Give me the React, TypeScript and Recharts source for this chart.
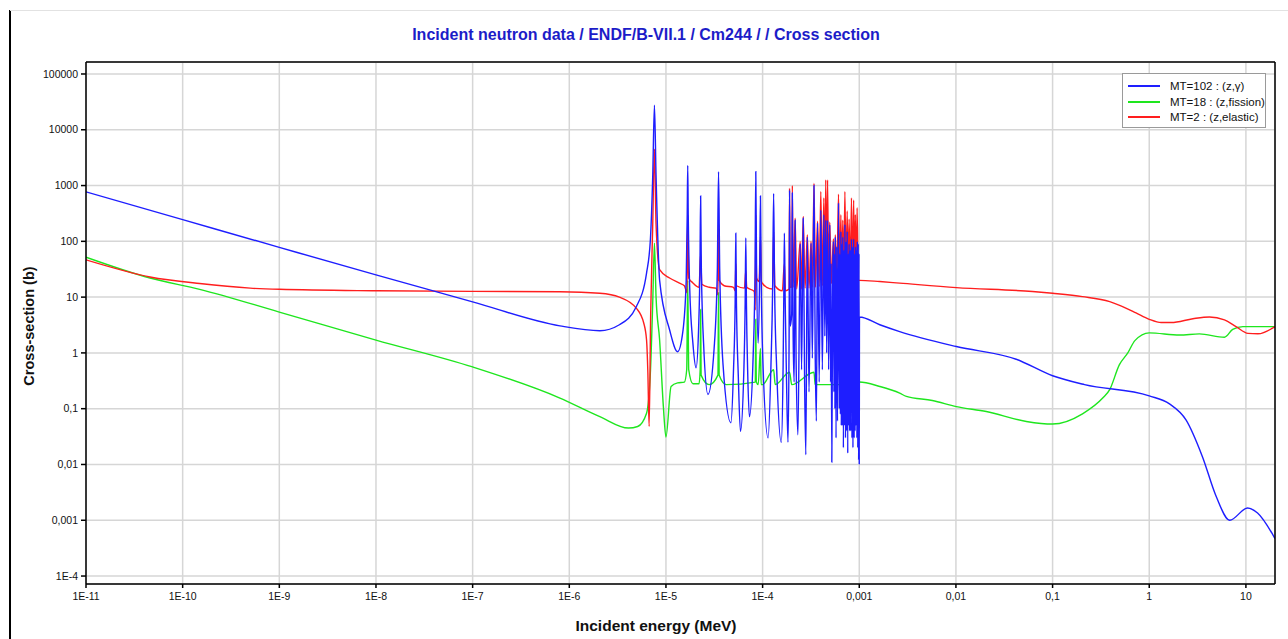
import { LineChart, Line, XAxis, YAxis, CartesianGrid } from 'recharts';

// energies in MeV, cross sections in barns
const capture: [number, number][] = [
  [1e-11, 770], [1e-10, 245], [1e-9, 78], [1e-8, 25], [1e-7, 8.2], [8e-7, 3.05], [2.07e-6, 2.5],
  [3.3e-6, 3.2], [4.95e-6, 6.8], [6.3e-6, 27], [6.9e-6, 107], [7.3e-6, 1500], [7.6e-6, 27500],
  [7.9e-6, 1500], [8.6e-6, 20], [1.09e-5, 2.6], [1.32e-5, 1.05], [1.5e-5, 2.5], [1.62e-5, 20],
  [1.66e-5, 300], [1.68e-5, 2300], [1.7e-5, 300], [1.76e-5, 15], [1.9e-5, 1.5], [2.05e-5, 0.54],
  [2.18e-5, 3], [2.25e-5, 40], [2.285e-5, 650], [2.32e-5, 40], [2.45e-5, 1.5], [2.72e-5, 0.18],
  [3.15e-5, 1.2], [3.4e-5, 30], [3.5e-5, 1780], [3.6e-5, 30], [3.9e-5, 0.6], [4.7e-5, 0.056],
  [5.0e-5, 0.5], [5.2e-5, 8], [5.28e-5, 140], [5.36e-5, 8], [5.6e-5, 0.4], [5.9e-5, 0.039],
  [6.4e-5, 0.5], [6.6e-5, 8], [6.7e-5, 115], [6.8e-5, 8], [7.0e-5, 0.5], [7.3e-5, 0.072],
  [8.0e-5, 1], [8.35e-5, 30], [8.5e-5, 1780], [8.65e-5, 40], [9.0e-5, 1.5], [9.35e-5, 40],
  [9.5e-5, 650], [9.65e-5, 30], [1.0e-4, 1], [1.14e-4, 0.03], [1.22e-4, 0.6], [1.27e-4, 15],
  [1.3e-4, 725], [1.33e-4, 15], [1.4e-4, 0.5], [1.56e-4, 0.025], [1.63e-4, 0.6], [1.66e-4, 15],
  [1.68e-4, 140], [1.71e-4, 10], [1.76e-4, 0.5], [1.83e-4, 0.025], [1.88e-4, 2], [1.9e-4, 830],
  [1.93e-4, 3], [2.0e-4, 5], [2.03e-4, 740], [2.07e-4, 2], [2.12e-4, 0.3], [2.17e-4, 240],
  [2.22e-4, 0.8], [2.32e-4, 0.034], [2.45e-4, 90], [2.53e-4, 0.5], [2.63e-4, 260], [2.72e-4, 0.3],
  [2.8e-4, 0.015], [2.9e-4, 120], [3.02e-4, 0.2], [3.17e-4, 93], [3.27e-4, 0.8], [3.4e-4, 1000],
  [3.5e-4, 1], [3.6e-4, 0.06], [3.7e-4, 214], [3.85e-4, 0.3], [4.0e-4, 365], [4.15e-4, 0.5],
  [4.3e-4, 300], [4.4e-4, 2], [4.5e-4, 240], [4.6e-4, 1], [4.7e-4, 240], [4.82e-4, 0.5],
  [4.95e-4, 200], [5.05e-4, 0.3], [5.1e-4, 40], [5.2e-4, 0.011], [5.32e-4, 30], [5.4e-4, 100],
  [5.47e-4, 0.2], [5.52e-4, 60], [5.6e-4, 0.1], [5.65e-4, 120], [5.75e-4, 0.03], [5.85e-4, 80],
  [5.95e-4, 0.06], [6.1e-4, 490], [6.2e-4, 0.1], [6.3e-4, 60], [6.38e-4, 0.08], [6.45e-4, 150],
  [6.52e-4, 0.05], [6.6e-4, 90], [6.68e-4, 0.05], [6.75e-4, 120], [6.85e-4, 0.02], [6.95e-4, 70],
  [7.02e-4, 0.05], [7.1e-4, 200], [7.2e-4, 0.03], [7.3e-4, 100], [7.4e-4, 0.04], [7.5e-4, 150],
  [7.6e-4, 0.016], [7.7e-4, 60], [7.78e-4, 0.05], [7.85e-4, 90], [7.95e-4, 0.04], [8.05e-4, 70],
  [8.15e-4, 0.04], [8.3e-4, 110], [8.4e-4, 0.03], [8.5e-4, 80], [8.6e-4, 0.02], [8.75e-4, 110],
  [8.85e-4, 0.03], [8.95e-4, 60], [9.05e-4, 0.04], [9.15e-4, 80], [9.25e-4, 0.05], [9.35e-4, 70],
  [9.45e-4, 0.03], [9.55e-4, 100], [9.65e-4, 0.02], [9.75e-4, 90], [9.85e-4, 0.012], [9.93e-4, 60],
  [1.0e-3, 0.01], [1.005e-3, 4.4], [1.63e-3, 3.2],
  [2.62e-3, 2.41], [0.0101, 1.3], [0.042, 0.77], [0.1, 0.39], [0.214, 0.27], [1.0, 0.17],
  [1.62, 0.122], [2.4, 0.063], [3.55, 0.0138], [4.93, 0.00266], [6.8, 0.001], [10.4, 0.00166],
  [13.2, 0.00135], [20, 0.00047],
];

const fission: [number, number][] = [
  [1e-11, 52], [4.6e-11, 22], [1.5e-10, 13.8], [1e-9, 5.4], [1e-8, 1.7], [1e-7, 0.56], [8e-7, 0.155],
  [2.07e-6, 0.072], [4.1e-6, 0.045], [5.1e-6, 0.048], [6.3e-6, 0.083], [6.9e-6, 0.44], [7.3e-6, 8],
  [7.6e-6, 93], [7.9e-6, 10], [8.6e-6, 1.7], [9.4e-6, 0.11], [1.0e-5, 0.031], [1.13e-5, 0.25],
  [1.32e-5, 0.29], [1.55e-5, 0.3], [1.64e-5, 0.5], [1.68e-5, 20], [1.72e-5, 0.5], [1.9e-5, 0.28],
  [2.2e-5, 0.28], [2.26e-5, 0.5], [2.285e-5, 6], [2.31e-5, 0.4], [2.8e-5, 0.27], [3.45e-5, 0.4],
  [3.5e-5, 12], [3.55e-5, 0.4], [4.2e-5, 0.27], [8.4e-5, 0.3], [8.5e-5, 4], [8.6e-5, 0.3],
  [9.0e-5, 0.27], [9.5e-5, 1.2], [9.65e-5, 0.27], [1.0e-4, 0.27], [1.3e-4, 0.5], [1.35e-4, 0.27],
  [1.9e-4, 0.45], [2.0e-4, 0.27], [3.4e-4, 0.45], [3.5e-4, 0.27], [7.0e-4, 0.27], [1e-3, 0.3],
  [1.63e-3, 0.25], [2.62e-3, 0.19], [3.07e-3, 0.166], [5.7e-3, 0.14],
  [0.0101, 0.109], [0.0206, 0.089], [0.0535, 0.059], [0.1, 0.053], [0.204, 0.081], [0.33, 0.155],
  [0.39, 0.22], [0.49, 0.61], [0.6, 1.0], [0.71, 1.66], [1.0, 2.29], [2.06, 2.09], [3.3, 2.19],
  [6.0, 1.91], [7.3, 2.63], [9.3, 2.96], [20, 2.96],
];

const elastic: [number, number][] = [
  [1e-11, 46.5], [4.6e-11, 23], [1.5e-10, 17.5], [5e-10, 14.5], [1e-9, 13.8], [1e-8, 13], [1e-7, 12.7],
  [8e-7, 12.5], [2.07e-6, 11.7], [3.3e-6, 10], [4.95e-6, 6.3], [5.9e-6, 3.4], [6.3e-6, 1.7],
  [6.5e-6, 0.44], [6.7e-6, 0.048], [6.95e-6, 5], [7.3e-6, 200], [7.6e-6, 4500], [7.9e-6, 200],
  [8.6e-6, 31], [1.09e-5, 22], [1.38e-5, 17.8], [1.55e-5, 16], [1.65e-5, 12], [1.68e-5, 300],
  [1.72e-5, 22], [1.9e-5, 18], [2.2e-5, 15], [2.285e-5, 60], [2.35e-5, 17], [2.8e-5, 15],
  [3.3e-5, 14.5], [3.45e-5, 11], [3.5e-5, 200], [3.56e-5, 20], [4.0e-5, 16], [5.0e-5, 15],
  [5.2e-5, 13], [5.28e-5, 40], [5.36e-5, 16], [6.5e-5, 14.5], [6.7e-5, 30], [6.85e-5, 15],
  [8.2e-5, 12.6], [8.4e-5, 5.9], [8.5e-5, 300], [8.65e-5, 22], [9.2e-5, 19], [9.5e-5, 120],
  [9.7e-5, 19], [1.1e-4, 15], [1.27e-4, 14], [1.3e-4, 150], [1.34e-4, 16], [1.6e-4, 13],
  [1.68e-4, 40], [1.72e-4, 13], [1.83e-4, 13.5], [1.88e-4, 14], [1.9e-4, 900], [1.93e-4, 15],
  [2.0e-4, 15], [2.03e-4, 1000], [2.07e-4, 15], [2.17e-4, 260], [2.25e-4, 14], [2.45e-4, 100],
  [2.53e-4, 14], [2.63e-4, 280], [2.75e-4, 14.5], [2.9e-4, 130], [3.02e-4, 14.5], [3.17e-4, 100],
  [3.28e-4, 15], [3.4e-4, 1100], [3.52e-4, 15], [3.7e-4, 230], [3.85e-4, 15.5], [4.0e-4, 780],
  [4.15e-4, 16], [4.3e-4, 600], [4.4e-4, 17], [4.5e-4, 1260], [4.6e-4, 17], [4.7e-4, 1260],
  [4.82e-4, 17], [4.95e-4, 220], [5.15e-4, 17.5], [5.4e-4, 110], [5.52e-4, 17.5], [5.65e-4, 130],
  [5.85e-4, 18], [6.1e-4, 700], [6.28e-4, 18], [6.45e-4, 300], [6.6e-4, 18.5], [6.75e-4, 240],
  [6.92e-4, 18.5], [7.1e-4, 780], [7.3e-4, 19], [7.5e-4, 350], [7.67e-4, 19], [7.85e-4, 250],
  [8.1e-4, 19], [8.3e-4, 600], [8.52e-4, 19.5], [8.75e-4, 550], [8.92e-4, 19.5], [9.1e-4, 300],
  [9.3e-4, 20], [9.5e-4, 400], [9.75e-4, 20], [1e-3, 20], [1.63e-3, 19], [2.62e-3, 17.8],
  [0.0101, 14.8], [0.062, 12.6], [0.1, 11.7], [0.204, 10.2], [0.39, 8.3], [0.58, 6.3], [0.73, 5.2],
  [1.0, 4.0], [1.33, 3.5], [1.69, 3.5], [2.83, 4.1], [4.2, 4.4], [6.0, 3.9], [7.9, 2.96],
  [10.5, 2.24], [13.3, 2.2], [20, 2.96],
];

const xTicks = [1e-11, 1e-10, 1e-9, 1e-8, 1e-7, 1e-6, 1e-5, 1e-4, 1e-3, 1e-2, 1e-1, 1, 10];
const xTickLabels = ['1E-11', '1E-10', '1E-9', '1E-8', '1E-7', '1E-6', '1E-5', '1E-4', '0,001', '0,01', '0,1', '1', '10'];
const yTicks = [1e-4, 1e-3, 1e-2, 0.1, 1, 10, 100, 1000, 10000, 100000];
const yTickLabels = ['1E-4', '0,001', '0,01', '0,1', '1', '10', '100', '1000', '10000', '100000'];

const series = [
  { name: 'MT=18 : (z,fission)', data: fission, color: '#1ee61e' },
  { name: 'MT=2 : (z,elastic)', data: elastic, color: '#ff1e1e' },
  { name: 'MT=102 : (z,γ)', data: capture, color: '#1e1eff' },
];
const legendOrder = [2, 0, 1];

const xDomain = [1e-11, 20];
const yDomain = [7.2e-5, 1.64e5];
const tickFont = { fontSize: 10.5, fill: '#111', fontFamily: '"Liberation Sans Narrow", "Liberation Sans", Arial, sans-serif' };
const boldFont = '"Liberation Sans", Arial, sans-serif';

const toRows = (pts: [number, number][]) => pts.map(([e, xs]) => ({ e, xs }));

export default function App() {
  return (
    <div style={{ position: 'absolute', left: 0, top: 0, width: 1288, height: 639, background: '#fff', overflow: 'hidden' }}>
      <div style={{ position: 'absolute', left: 9, top: 10, width: 2, height: 629, background: '#000' }} />
      <div style={{ position: 'absolute', left: 10, top: 10, width: 1278, height: 1, background: '#e2e2e2' }} />
      <div style={{ position: 'absolute', left: 0, top: 26, width: 1292, textAlign: 'center', fontFamily: boldFont, fontWeight: 'bold', fontSize: 16, color: '#1c1cc8' }}>
        Incident neutron data / ENDF/B-VII.1 / Cm244 / / Cross section
      </div>
      <div style={{ position: 'absolute', left: 556, top: 617, width: 200, textAlign: 'center', fontFamily: boldFont, fontWeight: 'bold', fontSize: 15.5, color: '#111' }}>
        Incident energy (MeV)
      </div>
      <div style={{ position: 'absolute', left: 29, top: 327, width: 0, height: 0 }}>
        <div style={{ position: 'absolute', left: -100, top: -9, width: 200, textAlign: 'center', transform: 'rotate(-90deg)', fontFamily: boldFont, fontWeight: 'bold', fontSize: 14.5, color: '#111' }}>
          Cross-section (b)
        </div>
      </div>
      <div style={{ position: 'absolute', left: 0, top: 0 }}>
        <LineChart width={1288} height={639} margin={{ top: 62, right: 13, bottom: 25, left: 10 }}>
          <CartesianGrid stroke="#d6d6d6" strokeWidth={1.5} />
          <XAxis dataKey="e" type="number" scale="log" domain={xDomain} allowDataOverflow ticks={xTicks}
            tickFormatter={(v: number) => xTickLabels[xTicks.indexOf(v)] ?? ''} tick={tickFont}
            height={30} tickSize={4} tickMargin={5} stroke="#000" strokeWidth={1.5} interval={0} />
          <XAxis xAxisId="bm" dataKey="e" type="number" scale="log" domain={xDomain} allowDataOverflow ticks={xTicks}
            mirror tick={false} axisLine={false} tickSize={4} stroke="#000" strokeWidth={1.5} interval={0} />
          <XAxis xAxisId="top" orientation="top" dataKey="e" type="number" scale="log" domain={xDomain} allowDataOverflow
            ticks={xTicks} mirror tick={false} tickSize={4} stroke="#000" strokeWidth={1.5} interval={0} />
          <YAxis type="number" scale="log" domain={yDomain} allowDataOverflow ticks={yTicks}
            tickFormatter={(v: number) => yTickLabels[yTicks.indexOf(v)] ?? ''} tick={tickFont}
            width={76} tickSize={5} tickMargin={3} stroke="#000" strokeWidth={1.5} interval={0} />
          <YAxis yAxisId="lm" type="number" scale="log" domain={yDomain} allowDataOverflow ticks={yTicks}
            mirror tick={false} axisLine={false} tickSize={4} stroke="#000" strokeWidth={1.5} interval={0} />
          <YAxis yAxisId="right" orientation="right" type="number" scale="log" domain={yDomain} allowDataOverflow
            ticks={yTicks} mirror tick={false} tickSize={4} stroke="#000" strokeWidth={1.5} interval={0} />
          {series.map((s) => (
            <Line key={s.name} data={toRows(s.data)} dataKey="xs" type="monotone" stroke={s.color}
              strokeWidth={1.4} dot={false} activeDot={false} isAnimationActive={false} />
          ))}
        </LineChart>
      </div>
      <div style={{ position: 'absolute', left: 1122, top: 73, width: 144, height: 55, border: '1px solid #9a9a9a', background: '#fff', boxSizing: 'border-box', fontFamily: 'Arial, "Liberation Sans", sans-serif', fontSize: 11.5, color: '#111' }}>
        {legendOrder.map((i, k) => (
          <div key={series[i].name} style={{ position: 'absolute', left: 5, top: 6 + k * 15.5, height: 12, display: 'flex', alignItems: 'center' }}>
            <div style={{ width: 32, height: 2, background: series[i].color }} />
            <span style={{ marginLeft: 10, whiteSpace: 'nowrap' }}>{series[i].name}</span>
          </div>
        ))}
      </div>
    </div>
  );
}
